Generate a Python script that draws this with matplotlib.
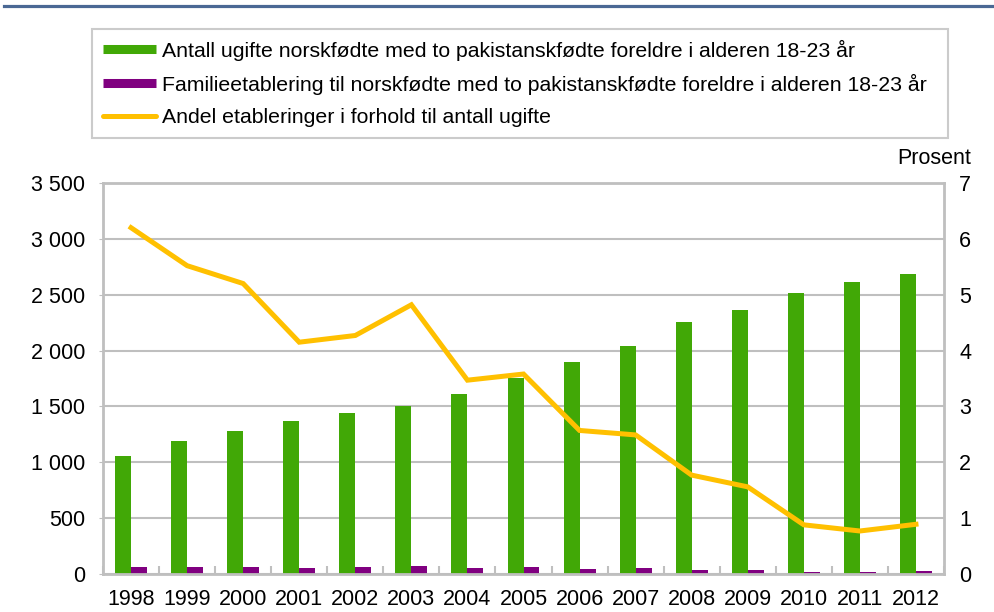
import matplotlib
matplotlib.use("Agg")
import matplotlib.pyplot as plt
from matplotlib.lines import Line2D
import numpy as np

plt.rcParams['font.family'] = ['Liberation Sans', 'DejaVu Sans']

# === Data ===
years = ['1998', '1999', '2000', '2001', '2002', '2003', '2004', '2005',
         '2006', '2007', '2008', '2009', '2010', '2011', '2012']
ugifte = [1056, 1190, 1280, 1370, 1444, 1507, 1608, 1754,
          1897, 2043, 2253, 2360, 2512, 2613, 2685]
etablering = [65, 66, 67, 57, 62, 73, 56, 63, 49, 51, 40, 37, 22, 20, 24]
andel = [6.20, 5.52, 5.20, 4.15, 4.27, 4.82, 3.47, 3.58,
         2.57, 2.49, 1.77, 1.56, 0.88, 0.77, 0.89]

left_ticks = [0, 500, 1000, 1500, 2000, 2500, 3000, 3500]
right_ticks = [0, 1, 2, 3, 4, 5, 6, 7]

labels = ['Antall ugifte norskfødte med to pakistanskfødte foreldre i alderen 18-23 år',
          'Familieetablering til norskfødte med to pakistanskfødte foreldre i alderen 18-23 år',
          'Andel etableringer i forhold til antall ugifte']

green = '#41A806'
purple = '#800080'
orange = '#FFC000'
grid_col = '#BFBFBF'
fs = 15.5
leg_fs = 15.3

# === Figure ===
fig = plt.figure(figsize=(9.94, 6.12), dpi=100)
ax = fig.add_axes([103/994, 1-574/612, (944-103)/994, (574-183)/612])

x = np.arange(len(years))
w = 0.285
ax.bar(x - w/2, ugifte, width=w, color=green, zorder=2)
ax.bar(x + w/2, etablering, width=w, color=purple, zorder=2)

ax.set_xlim(-0.5, len(years) - 0.5)
ax.set_ylim(0, 3500)
ax.set_yticks(left_ticks)
ax.set_yticklabels([f"{v:,}".replace(',', ' ') for v in left_ticks])
ax.set_xticks(x)
ax.set_xticklabels(years)
ax.set_xticks(np.arange(len(years) + 1) - 0.5, minor=True)
ax.tick_params(axis='x', which='major', length=0, pad=11, labelsize=fs)
ax.tick_params(axis='x', which='minor', length=6, direction='in', color=grid_col, width=1.5)
ax.tick_params(axis='y', length=3, color=grid_col, pad=10, labelsize=fs)
ax.grid(axis='y', color=grid_col, linewidth=1.5, zorder=0)
ax.set_axisbelow(True)
for side in ['left', 'bottom', 'right', 'top']:
    ax.spines[side].set_color(grid_col)
    ax.spines[side].set_linewidth(2)

ax2 = ax.twinx()
ax2.plot(x, andel, color=orange, linewidth=3.6, solid_joinstyle='miter', zorder=3)
ax2.set_ylim(0, 7)
ax2.set_yticks(right_ticks)
ax2.tick_params(axis='y', length=0, pad=11, labelsize=fs)
for side in ['left', 'bottom', 'right', 'top']:
    ax2.spines[side].set_visible(False)
fig.text(971/994, 1-158/612, 'Prosent', ha='right', va='center', fontsize=fs)

# === Legend ===
handles = [Line2D([0], [0], color=green, linewidth=6.5, solid_capstyle='butt'),
           Line2D([0], [0], color=purple, linewidth=6.5, solid_capstyle='butt'),
           Line2D([0], [0], color=orange, linewidth=3.6, solid_capstyle='round')]
leg = fig.legend(handles, labels, loc='upper left',
                 bbox_to_anchor=(92/994, 1-134/612, 856/994, 105/612),
                 mode='expand', borderaxespad=0, fontsize=leg_fs, frameon=True,
                 fancybox=False, handlelength=2.5, handletextpad=0.3,
                 labelspacing=0.62, borderpad=0.5)
leg.get_frame().set_edgecolor(grid_col)
leg.get_frame().set_linewidth(1.5)
leg._legend_box.align = 'left'

# top rule
fig.add_artist(Line2D([4/994, 1], [1-6/612, 1-6/612], color='#4A6894', linewidth=2.3))

fig.savefig('out.png', dpi=100)
